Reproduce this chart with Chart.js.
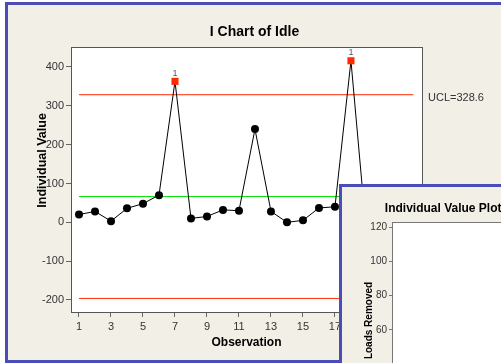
<!DOCTYPE html>
<html>
<head>
<meta charset="utf-8">
<script src="https://cdn.jsdelivr.net/npm/chart.js@4.4.1/dist/chart.umd.min.js"></script>
<style>
  html, body { margin: 0; padding: 0; background: #fff; }
  body { width: 501px; height: 363px; overflow: hidden; position: relative; }
  .win {
    position: absolute;
    background: #f2efe7;
    border: 3px solid #4a4db6;
    border-right: none;
    box-sizing: border-box;
  }
  #mainWin { left: 5px; top: 2px; width: 520px; height: 361px; }
  #sideWin { left: 339px; top: 184px; width: 300px; height: 300px; border-bottom: none; }
  canvas { position: absolute; left: 0; top: 0; }
</style>
</head>
<body>
<div class="win" id="mainWin"><canvas id="iChart" width="493" height="355"></canvas></div>
<div class="win" id="sideWin"><canvas id="sidePlot" height="240"></canvas></div>
<script>
"use strict";

// I chart of Idle
const observations = [1, 2, 3, 4, 5, 6, 7, 8, 9, 10, 11, 12, 13, 14, 15, 16, 17, 18, 19, 20, 21];
const idleValues = [20, 28, 3, 36, 48, 70, 363, 10, 15, 32, 30, 240, 28, 0, 5, 37, 40, 416, -45, 25, 15];
const xTicks = [1, 3, 5, 7, 9, 11, 13, 15, 17, 19, 21];
const yTicks = [-200, -100, 0, 100, 200, 300, 400];
const ucl = 328.6;
const centre = 66.3;
const lcl = -196.0;
const limitSpan = [1, 21.9];

// Individual value plot (only its empty top corner shows)
const sideTicks = [60, 80, 100, 120];
const sideTitle = 'Individual Value Plot of Loads Removed';

Chart.defaults.font.family = '"Liberation Sans", Arial, sans-serif';
Chart.defaults.color = '#333';

const RED = '#ff2a00';
const GREEN = '#00e000';

function limitLine(v, colour) {
  return {
    data: limitSpan.map(x => ({ x: x, y: v })),
    borderColor: colour,
    borderWidth: 1,
    pointRadius: 0,
    fill: false,
  };
}

const frame = {
  id: 'frame',
  beforeDraw(chart) {
    const a = chart.chartArea, ctx = chart.ctx;
    ctx.save();
    ctx.fillStyle = '#fff';
    ctx.fillRect(a.left, a.top, a.right - a.left, a.bottom - a.top);
    ctx.restore();
  },
  afterDraw(chart) {
    const a = chart.chartArea, ctx = chart.ctx;
    ctx.save();
    ctx.strokeStyle = '#555';
    ctx.lineWidth = 1;
    ctx.strokeRect(a.left + 0.5, a.top + 0.5, a.right - a.left, a.bottom - a.top);
    ctx.restore();
  }
};

const flags = {
  id: 'flags',
  afterDatasetsDraw(chart) {
    const ctx = chart.ctx, a = chart.chartArea;
    const xs = chart.scales.x, ys = chart.scales.y;
    ctx.save();
    ctx.textBaseline = 'middle';
    // test 1 marks above the out-of-control points
    ctx.font = '9px "Liberation Sans", Arial, sans-serif';
    ctx.fillStyle = '#555';
    ctx.textAlign = 'center';
    idleValues.forEach((v, i) => {
      if (v > ucl || v < lcl) {
        ctx.fillText('1', xs.getPixelForValue(observations[i]), ys.getPixelForValue(v) - 8);
      }
    });
    // limit labels on the right
    ctx.font = '11px "Liberation Sans", Arial, sans-serif';
    ctx.fillStyle = '#333';
    ctx.textAlign = 'left';
    [['UCL=' + ucl.toFixed(1), ucl], ['X\u0304=' + centre.toFixed(1), centre], ['LCL=' + lcl.toFixed(1), lcl]]
      .forEach(([t, v]) => ctx.fillText(t, a.right + 6, ys.getPixelForValue(v) + 3));
    ctx.restore();
  }
};

const out = v => v > ucl || v < lcl;

new Chart(document.getElementById('iChart'), {
  type: 'line',
  data: {
    datasets: [
      {
        data: observations.map((x, i) => ({ x: x, y: idleValues[i] })),
        borderColor: '#000',
        borderWidth: 1,
        pointStyle: idleValues.map(v => out(v) ? 'rect' : 'circle'),
        pointRadius: idleValues.map(v => out(v) ? 5 : 4),
        pointBackgroundColor: idleValues.map(v => out(v) ? RED : '#000'),
        pointBorderColor: idleValues.map(v => out(v) ? RED : '#000'),
        pointBorderWidth: 0,
        tension: 0,
      },
      limitLine(ucl, RED),
      limitLine(centre, GREEN),
      limitLine(lcl, RED),
    ]
  },
  options: {
    responsive: false,
    animation: false,
    layout: { padding: 0 },
    plugins: {
      legend: { display: false },
      tooltip: { enabled: false },
      title: {
        display: true,
        text: 'I Chart of Idle',
        color: '#000',
        font: { size: 14, weight: 'bold' },
        padding: { top: 18.6, bottom: 6.6 },
      },
    },
    scales: {
      x: {
        type: 'linear',
        min: 0.5,
        max: 22.44,
        afterBuildTicks: s => { s.ticks = xTicks.map(v => ({ value: v })); },
        afterFit: s => { s.height = 48; },
        grid: { drawOnChartArea: false, drawTicks: true, tickLength: 5, color: '#666' },
        border: { display: false },
        ticks: { padding: 3, font: { size: 11 }, color: '#333', maxRotation: 0, autoSkip: false },
        title: {
          display: true,
          text: 'Observation',
          color: '#000',
          font: { size: 12, weight: 'bold' },
          padding: { top: 0, bottom: 10 },
        },
      },
      y: {
        min: -231,
        max: 451.5,
        afterBuildTicks: s => { s.ticks = yTicks.map(v => ({ value: v })); },
        afterFit: s => { s.width = 63; },
        grid: { drawOnChartArea: false, drawTicks: true, tickLength: 5, color: '#666' },
        border: { display: false },
        ticks: { padding: 2, font: { size: 11 }, color: '#333' },
        title: {
          display: true,
          // leading spaces lift the label above the plot centre, as in the picture
          text: ' '.repeat(11) + 'Individual Value',
          color: '#000',
          font: { size: 12.5, weight: 'bold' },
          padding: { top: 27, bottom: 0 },
        },
      },
      // empty margin on the right that holds the limit labels
      margin: {
        type: 'linear',
        position: 'right',
        display: true,
        afterFit: s => { s.width = 79; },
        grid: { display: false },
        border: { display: false },
        ticks: { display: false },
      },
    },
  },
  plugins: [frame, flags],
});

// second window: width so that the centred title starts where it does in the picture
const probe = document.createElement('canvas').getContext('2d');
probe.font = 'bold 12px "Liberation Sans", Arial, sans-serif';
const sideCanvas = document.getElementById('sidePlot');
sideCanvas.width = Math.round(86 + probe.measureText(sideTitle).width);

const sideFrame = {
  id: 'sideFrame',
  beforeDraw(chart) {
    const a = chart.chartArea, ctx = chart.ctx;
    ctx.save();
    ctx.fillStyle = '#fff';
    ctx.fillRect(a.left, a.top, a.right - a.left, a.bottom - a.top);
    ctx.strokeStyle = '#777';
    ctx.lineWidth = 1;
    ctx.strokeRect(a.left + 0.5, a.top + 0.5, a.right - a.left, a.bottom - a.top);
    ctx.restore();
  }
};

new Chart(sideCanvas, {
  type: 'line',
  data: { datasets: [] },
  options: {
    responsive: false,
    animation: false,
    layout: { padding: 0 },
    plugins: {
      legend: { display: false },
      tooltip: { enabled: false },
      title: {
        display: true,
        text: sideTitle,
        color: '#000',
        font: { size: 12, weight: 'bold' },
        padding: { top: 14.8, bottom: 5.8 },
      },
    },
    scales: {
      x: { type: 'linear', display: false, min: 0, max: 1 },
      y: {
        min: 8,
        max: 123,
        afterBuildTicks: s => { s.ticks = sideTicks.map(v => ({ value: v })); },
        afterFit: s => { s.width = 50; },
        grid: { drawOnChartArea: false, drawTicks: true, tickLength: 3, color: '#777' },
        border: { display: false },
        ticks: { padding: 2, font: { size: 10 }, color: '#333' },
        title: {
          display: true,
          text: 'Loads Removed',
          color: '#000',
          font: { size: 10, weight: 'bold' },
          padding: { top: 21, bottom: 0 },
        },
      },
    },
  },
  plugins: [sideFrame],
});
</script>
</body>
</html>
